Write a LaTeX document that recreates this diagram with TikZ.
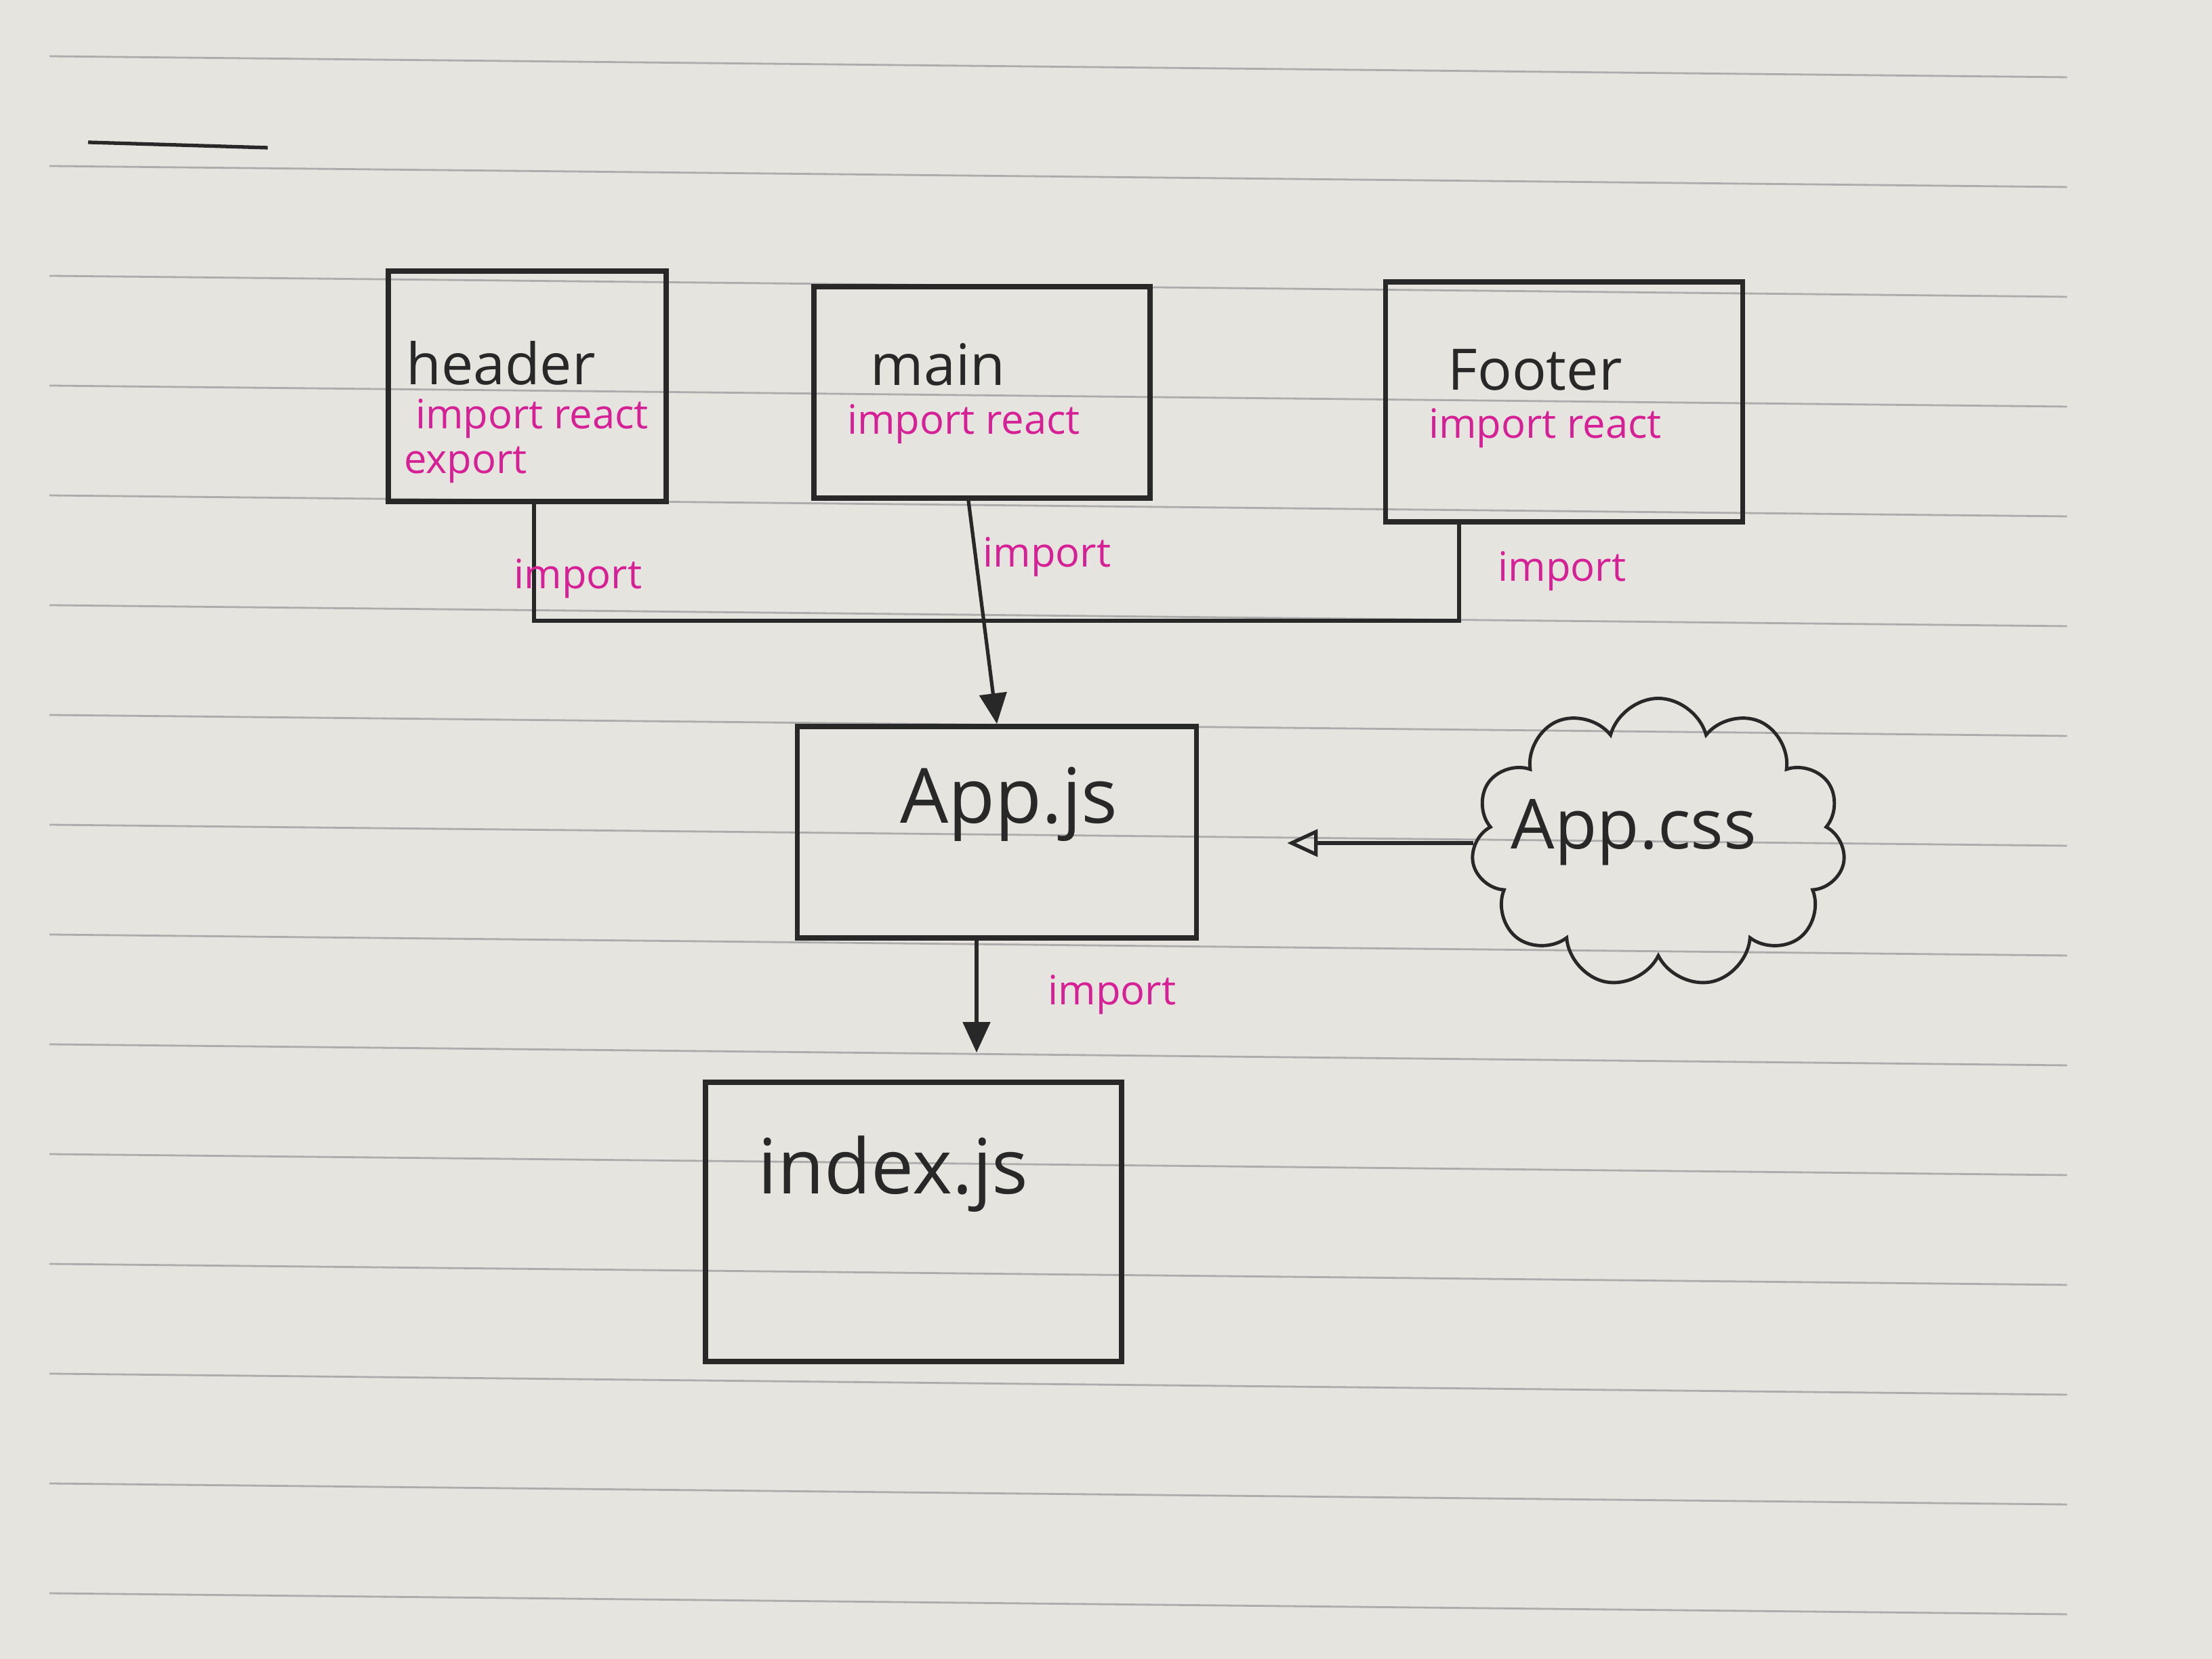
\documentclass[tikz,border=0pt]{standalone}
\usepackage{fontspec}
\setmainfont{Open Sans}
\usepackage{tikz}
\usetikzlibrary{arrows.meta, positioning, shapes.symbols, calc}
\definecolor{inkblack}{RGB}{40, 40, 40}
\definecolor{inkpink}{RGB}{214, 32, 150}
\definecolor{paper}{RGB}{230, 228, 223}
\definecolor{ruling}{RGB}{172, 172, 172}

\begin{document}
\begin{tikzpicture}[
    box/.style={rectangle, draw=inkblack, line width=2.2pt, minimum width=#1},
    fname/.style={text=inkblack, font=\fontsize{24}{28}\selectfont},
    bigname/.style={text=inkblack, font=\fontsize{32}{38}\selectfont},
    note/.style={text=inkpink, font=\fontsize{17}{20}\selectfont},
    wire/.style={draw=inkblack, line width=1.5pt},
    every node/.style={inner sep=0pt}
]
\useasboundingbox (0, 0) rectangle (32.64, 24.48);
\fill[paper] (0, 0) rectangle (32.64, 24.48);

% Ruled paper
\foreach \k in {0,...,14} {
    \draw[ruling, line width=0.8pt] (0.73, {23.65-1.62*\k}) -- (30.5, {23.34-1.62*\k});
}
\draw[inkblack, line width=1.5pt] (1.3, 22.38) -- (3.95, 22.30);

% Components
\node[box=4.1cm, minimum height=3.4cm] (header) at (7.78, 18.78) {};
\node[box=4.96cm, minimum height=3.12cm] (main) at (14.49, 18.69) {};
\node[box=5.27cm, minimum height=3.54cm] (footer) at (23.08, 18.55) {};

\node[fname] (headername) at (7.39, 19.12) {header};
\node[note] (headerimp) at (7.85, 18.30) {import react};
\node[note] (headerexp) at (6.87, 17.62) {export};
\node[fname] (mainname) at (13.84, 19.10) {main};
\node[note] (mainimp) at (14.22, 18.22) {import react};
\node[fname] (footername) at (22.65, 19.02) {Footer};
\node[note] (footerimp) at (22.80, 18.16) {import react};

% App and entry point
\node[box=5.89cm, minimum height=3.12cm] (appjs) at (14.71, 12.20) {};
\node[bigname] (appjsname) at (14.89, 12.61) {App.js};
\node[cloud, cloud puffs=11, cloud ignores aspect, draw=inkblack, line width=1.4pt,
      minimum width=5.52cm, minimum height=4.27cm] (appcss) at (24.47, 12.04) {};
\node[bigname, font=\fontsize{29}{34}\selectfont] (appcssname) at (24.11, 12.20) {App.css};
\node[box=6.14cm, minimum height=4.12cm] (index) at (13.48, 6.45) {};
\node[bigname] (indexname) at (13.18, 7.16) {index.js};

% Imports
\coordinate (ftap) at ($(footer.south west)!0.21!(footer.south east)$);
\coordinate (join) at (14.55, 15.32);
\draw[wire] ([xshift=1mm]header.south) |- (join);
\draw[wire] (ftap) |- (join);
\draw[wire, -{Triangle[length=0.45cm, width=0.4cm]}] ([xshift=-2mm]main.south) -- (appjs.north);
\draw[wire, -{Triangle[open, length=0.45cm, width=0.4cm]}, shorten >=1.3cm]
    (appcss.west) -- (appcss.west -| appjs.east);
\draw[wire, -{Triangle[length=0.45cm, width=0.4cm]}, shorten >=0.4cm]
    ([xshift=-3mm]appjs.south) -- ([xshift=-3mm]appjs.south |- index.north);

\node[note] (imp1) at (8.53, 15.94) {import};
\node[note] (imp2) at (15.45, 16.26) {import};
\node[note] (imp3) at (23.05, 16.05) {import};
\node[note] (imp4) at (16.41, 9.80) {import};

\end{tikzpicture}
\end{document}
